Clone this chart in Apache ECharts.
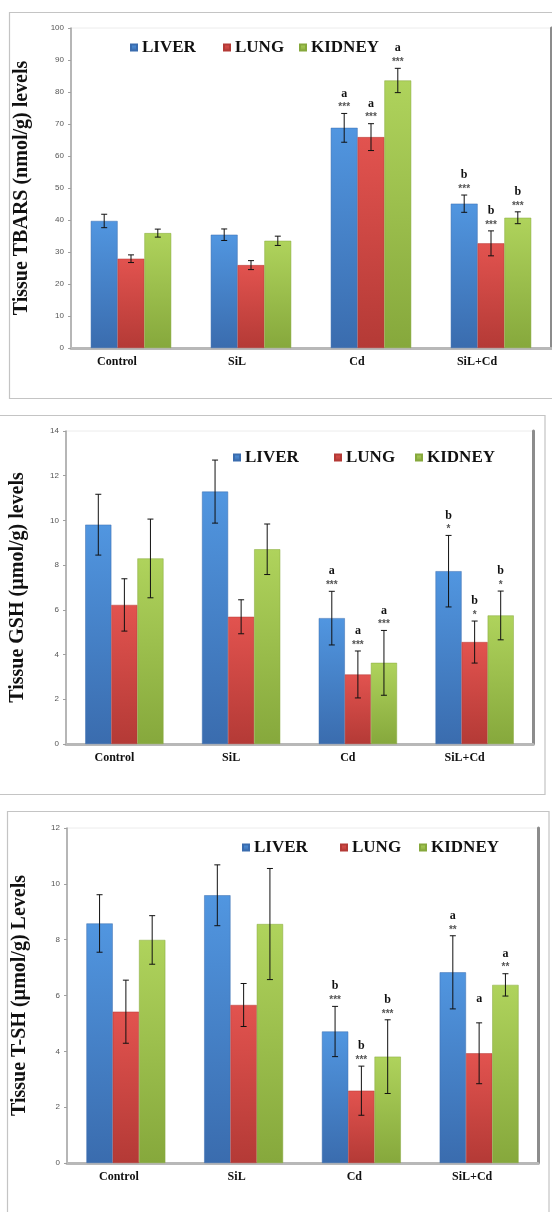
<!DOCTYPE html>
<html>
<head>
<meta charset="utf-8">
<script src="https://cdn.jsdelivr.net/npm/echarts@6/dist/echarts.min.js"></script>
<style>
html,body{margin:0;padding:0;background:#fff;}
#chart{width:552px;height:1212px;}
</style>
</head>
<body>
<div id="chart"></div>
<script>
// ---------- DATA ----------
const categories = ['Control', 'SiL', 'Cd', 'SiL+Cd'];
const seriesNames = ['LIVER', 'LUNG', 'KIDNEY'];

// Panel 1: Tissue TBARS (nmol/g)
const tbarsLiver = [39.7, 35.4, 68.8, 45.1];
const tbarsLung = [27.9, 25.9, 65.9, 32.7];
const tbarsKidney = [35.9, 33.5, 83.6, 40.7];
const tbarsLiverErr = [2.1, 1.8, 4.5, 2.7];
const tbarsLungErr = [1.2, 1.4, 4.2, 3.9];
const tbarsKidneyErr = [1.25, 1.45, 3.8, 1.85];
const tbarsLiverSig = [['', ''], ['', ''], ['a', '***'], ['b', '***']];
const tbarsLungSig = [['', ''], ['', ''], ['a', '***'], ['b', '***']];
const tbarsKidneySig = [['', ''], ['', ''], ['a', '***'], ['b', '***']];

// Panel 2: Tissue GSH (µmol/g)
const gshLiver = [9.81, 11.29, 5.63, 7.73];
const gshLung = [6.22, 5.69, 3.11, 4.56];
const gshKidney = [8.30, 8.71, 3.63, 5.75];
const gshLiverErr = [1.36, 1.41, 1.2, 1.6];
const gshLungErr = [1.17, 0.76, 1.05, 0.94];
const gshKidneyErr = [1.76, 1.13, 1.45, 1.09];
const gshLiverSig = [['', ''], ['', ''], ['a', '***'], ['b', '*']];
const gshLungSig = [['', ''], ['', ''], ['a', '***'], ['b', '*']];
const gshKidneySig = [['', ''], ['', ''], ['a', '***'], ['b', '*']];

// Panel 3: Tissue T-SH (µmol/g)
const tshLiver = [8.58, 9.59, 4.71, 6.83];
const tshLung = [5.42, 5.66, 2.59, 3.93];
const tshKidney = [7.99, 8.56, 3.81, 6.38];
const tshLiverErr = [1.03, 1.09, 0.9, 1.31];
const tshLungErr = [1.13, 0.77, 0.88, 1.09];
const tshKidneyErr = [0.87, 1.99, 1.32, 0.4];
const tshLiverSig = [['', ''], ['', ''], ['b', '***'], ['a', '**']];
const tshLungSig = [['', ''], ['', ''], ['b', '***'], ['a', '']];
const tshKidneySig = [['', ''], ['', ''], ['b', '***'], ['a', '**']];

const yTitles = ['Tissue TBARS (nmol/g) levels', 'Tissue GSH (µmol/g) levels', 'Tissue T-SH (µmol/g) Levels'];
const yMax = [100, 14, 12];
const yStep = [10, 2, 2];

// ---------- STYLE / LAYOUT ----------
const SERIF = '"Liberation Serif", "Times New Roman", serif';
const SANS = '"Liberation Sans", Arial, sans-serif';
const colors = [
  ['#5196e0', '#3a6cae'],
  ['#e2534f', '#b43a36'],
  ['#afd35c', '#86a83c']
];
const grids = [
  {left: 71, top: 28, width: 480, height: 320},
  {left: 58, top: 431, width: 475, height: 313},
  {left: 67, top: 828, width: 471, height: 335}
];
const labelShift = [14, 10, 7];
const legendPos = [
  {top: 39, lefts: [130, 223, 299]},
  {top: 449, lefts: [233, 334, 415]},
  {top: 839, lefts: [242, 340, 419]}
];
const catGap = 0.33;

const panels = [
  {vals: [tbarsLiver, tbarsLung, tbarsKidney], errs: [tbarsLiverErr, tbarsLungErr, tbarsKidneyErr], sigs: [tbarsLiverSig, tbarsLungSig, tbarsKidneySig]},
  {vals: [gshLiver, gshLung, gshKidney], errs: [gshLiverErr, gshLungErr, gshKidneyErr], sigs: [gshLiverSig, gshLungSig, gshKidneySig]},
  {vals: [tshLiver, tshLung, tshKidney], errs: [tshLiverErr, tshLungErr, tshKidneyErr], sigs: [tshLiverSig, tshLungSig, tshKidneySig]}
];

function grad(c) {
  return new echarts.graphic.LinearGradient(0, 0, 0, 1, [
    {offset: 0, color: c[0]},
    {offset: 1, color: c[1]}
  ]);
}

const option = {
  animation: false,
  backgroundColor: '#fff',
  grid: [], xAxis: [], yAxis: [], series: [], legend: [],
  graphic: [
    {type: 'rect', shape: {x: 9.5, y: 12.5, width: 560, height: 386}, style: {fill: 'none', stroke: '#c4c4c4', lineWidth: 1.2}},
    {type: 'rect', shape: {x: -3, y: 415.5, width: 548, height: 379}, style: {fill: 'none', stroke: '#c4c4c4', lineWidth: 1.2}},
    {type: 'rect', shape: {x: 7.5, y: 811.5, width: 541.5, height: 430}, style: {fill: 'none', stroke: '#c4c4c4', lineWidth: 1.2}}
  ]
};

panels.forEach((p, gi) => {
  option.grid.push(Object.assign({show: true, borderColor: '#ececec', borderWidth: 1, backgroundColor: '#fff'}, grids[gi]));
  option.xAxis.push({
    type: 'category', gridIndex: gi, data: categories,
    axisLine: {lineStyle: {color: '#b8b8b8', width: 3}},
    axisTick: {show: false},
    axisLabel: {fontFamily: SERIF, fontWeight: 'bold', fontSize: 12, color: '#111', margin: 8, padding: [0, labelShift[gi] * 2, 0, 0]}
  });
  option.yAxis.push({
    type: 'value', gridIndex: gi, min: 0, max: yMax[gi], interval: yStep[gi],
    name: yTitles[gi], nameLocation: 'middle', nameRotate: 90, nameGap: [39, 38, 37][gi],
    nameTextStyle: {fontFamily: SERIF, fontWeight: 'bold', fontSize: 20, color: '#111'},
    axisLine: {show: true, lineStyle: {color: '#a0a0a0', width: 1.5}},
    axisTick: {show: true, length: 3, lineStyle: {color: '#a0a0a0'}},
    axisLabel: {fontFamily: SANS, fontSize: 8, color: '#555', margin: 7},
    splitLine: {show: false}
  });
  option.yAxis.push({
    type: 'value', gridIndex: gi, position: 'right', min: 0, max: yMax[gi],
    axisLine: {show: true, lineStyle: {color: '#8c8c8c', width: 3}},
    axisTick: {show: false}, axisLabel: {show: false}, splitLine: {show: false}
  });
  seriesNames.forEach((name, si) => {
    option.series.push({
      type: 'bar', name: name, xAxisIndex: gi, yAxisIndex: gi * 2,
      data: p.vals[si], barGap: '0%', barCategoryGap: (catGap * 100) + '%',
      itemStyle: {color: grad(colors[si]), borderColor: colors[si][1], borderWidth: 0.5},
      z: 2
    });
  });
  // error bars + significance annotations
  const errData = [];
  const errSig = [];
  seriesNames.forEach((name, si) => {
    categories.forEach((c, ci) => {
      errData.push([ci, si, p.vals[si][ci], p.errs[si][ci]]);
      errSig.push(p.sigs[si][ci]);
    });
  });
  option.series.push({
    type: 'custom', xAxisIndex: gi, yAxisIndex: gi * 2, z: 10,
    data: errData,
    renderItem: function (params, api) {
      const c = api.value(0), s = api.value(1), m = api.value(2), e = api.value(3);
      const catW = api.size([1, 0])[0];
      const bw = catW * (1 - catGap) / 3;
      const cx = api.coord([c, m])[0] + (s - 1) * bw;
      const yT = api.coord([c, m + e])[1];
      const yB = api.coord([c, m - e])[1];
      const ls = {stroke: '#111', lineWidth: 1};
      const kids = [
        {type: 'line', shape: {x1: cx, y1: yT, x2: cx, y2: yB}, style: ls},
        {type: 'line', shape: {x1: cx - 3, y1: yT, x2: cx + 3, y2: yT}, style: ls},
        {type: 'line', shape: {x1: cx - 3, y1: yB, x2: cx + 3, y2: yB}, style: ls}
      ];
      const sig = errSig[params.dataIndex];
      const hasStars = sig[1] !== '';
      if (hasStars) {
        kids.push({type: 'text', style: {text: sig[1], x: cx, y: yT - 6, align: 'center', verticalAlign: 'middle',
          fontFamily: SANS, fontSize: 10, fontWeight: 'bold', fill: '#555'}});
      }
      if (sig[0] !== '') {
        kids.push({type: 'text', style: {text: sig[0], x: cx, y: yT - (hasStars ? 20 : 24), align: 'center', verticalAlign: 'middle',
          fontFamily: SERIF, fontSize: 12, fontWeight: 'bold', fill: '#111'}});
      }
      return {type: 'group', children: kids};
    }
  });
  seriesNames.forEach((name, si) => {
    option.legend.push({
      data: [name], left: legendPos[gi].lefts[si], top: legendPos[gi].top,
      padding: 0, icon: 'rect', itemWidth: 6, itemHeight: 6, selectedMode: false,
      textStyle: {fontFamily: SERIF, fontWeight: 'bold', fontSize: 17, color: '#111'}
    });
  });
});

const chart = echarts.init(document.getElementById('chart'), null, {renderer: 'canvas'});
chart.setOption(option);
</script>
</body>
</html>
